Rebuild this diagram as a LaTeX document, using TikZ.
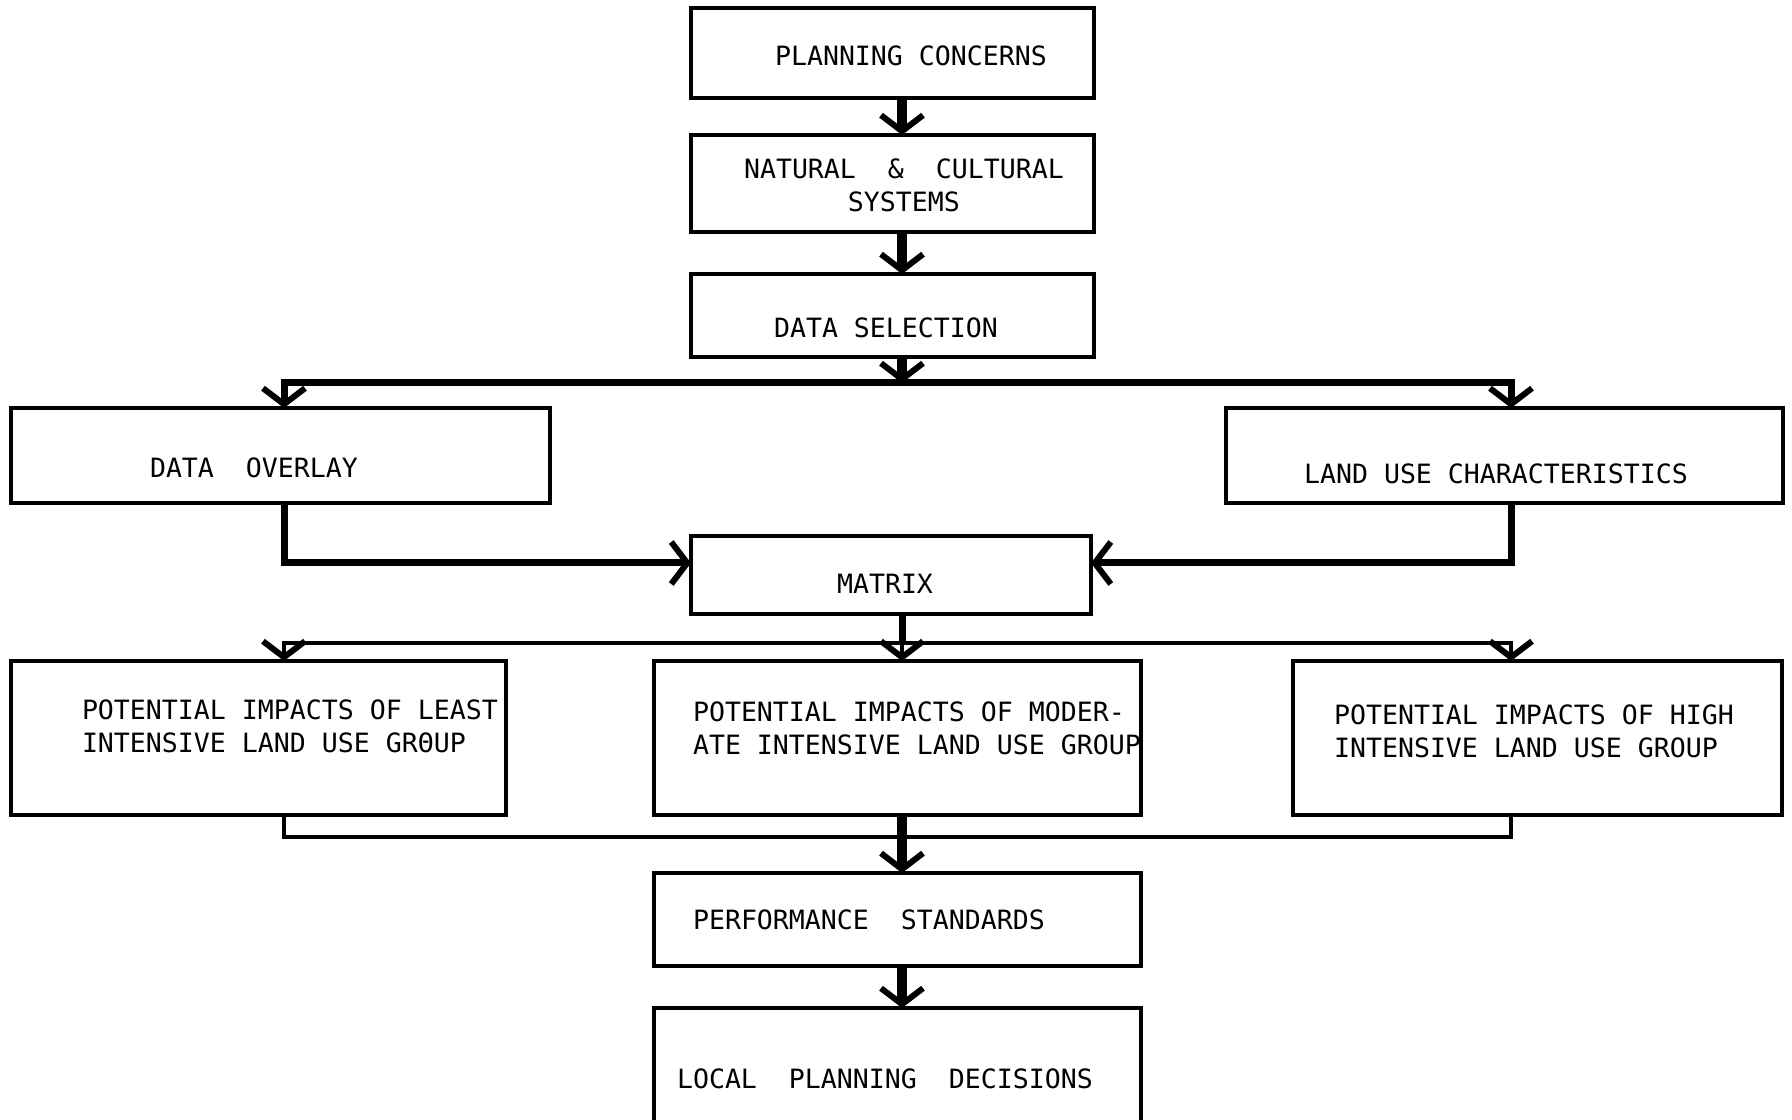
\documentclass[tikz,border=0pt]{standalone}
\usepackage{fontspec}
\usepackage{tikz}
\usetikzlibrary{arrows.meta}
\newfontfamily\typewriter{DejaVu Sans Mono}
\newcommand{\boxline}{0.45mm}
\tikzstyle{flowbox}=[draw, line width=\boxline, inner sep=0, outer sep=0]
\tikzstyle{boxtext}=[font=\typewriter\fontsize{7.56pt}{9.4pt}\selectfont, inner sep=0, outer sep=0, align=left, anchor=west]
\tikzstyle{mainflow}=[line width=1mm]
\tikzstyle{branch}=[line width=0.7mm]
\tikzstyle{minor}=[line width=0.45mm]
\tikzset{chev/.tip={Straight Barb[length=1.6mm, width=4.2mm, line width=0.6mm]}}

\begin{document}
\begin{tikzpicture}[x=0.1mm, y=-0.1mm]
    \useasboundingbox (0,0) rectangle (1792,1120);
    % columns and rows of the connectors
    \coordinate (lft) at (284, 0);
    \coordinate (mid) at (902, 0);
    \coordinate (rgt) at (1511, 0);
    \coordinate (split) at (0, 383);
    \coordinate (feed) at (0, 563);
    \coordinate (fan) at (0, 643);
    \coordinate (merge) at (0, 837);

    \node[flowbox, minimum width=40.3mm, minimum height=9mm,
          label={[boxtext, shift={(84,3)}]west:PLANNING~CONCERNS}] (concerns) at (892.5, 53) {};
    \node[flowbox, minimum width=40.3mm, minimum height=9.7mm,
          label={[boxtext, align=center, shift={(53,2)}]west:{NATURAL~~\&~~CULTURAL\\SYSTEMS}}] (natural) at (892.5, 183.5) {};
    \node[flowbox, minimum width=40.3mm, minimum height=8.3mm,
          label={[boxtext, shift={(83,12)}]west:DATA~SELECTION}] (selection) at (892.5, 315.5) {};
    \node[flowbox, minimum width=53.9mm, minimum height=9.5mm,
          label={[boxtext, shift={(139,12)}]west:DATA~~OVERLAY}] (overlay) at (280.5, 455.5) {};
    \node[flowbox, minimum width=55.7mm, minimum height=9.5mm,
          label={[boxtext, shift={(78,18)}]west:LAND~USE~CHARACTERISTICS}] (landuse) at (1504.5, 455.5) {};
    \node[flowbox, minimum width=40mm, minimum height=7.8mm,
          label={[boxtext, shift={(146,9)}]west:MATRIX}] (matrix) at (891, 575) {};
    \node[flowbox, minimum width=49.5mm, minimum height=15.4mm,
          label={[boxtext, shift={(71,-12)}]west:{POTENTIAL IMPACTS OF LEAST\\INTENSIVE LAND USE GRΘUP}}] (least) at (258.5, 738) {};
    \node[flowbox, minimum width=48.7mm, minimum height=15.4mm,
          label={[boxtext, shift={(39,-10)}]west:{POTENTIAL IMPACTS OF MODER-\\ATE INTENSIVE LAND USE GROUP}}] (moderate) at (897.5, 738) {};
    \node[flowbox, minimum width=48.9mm, minimum height=15.4mm,
          label={[boxtext, shift={(41,-7)}]west:{POTENTIAL IMPACTS OF HIGH\\INTENSIVE LAND USE GROUP}}] (high) at (1537.5, 738) {};
    \node[flowbox, minimum width=48.7mm, minimum height=9.3mm,
          label={[boxtext, shift={(39,0)}]west:PERFORMANCE~~STANDARDS}] (performance) at (897.5, 919.5) {};
    \node[flowbox, minimum width=48.7mm, minimum height=13.2mm,
          label={[boxtext, shift={(23,5)}]west:LOCAL~~PLANNING~~DECISIONS}] (decisions) at (897.5, 1074) {};

    \draw[mainflow, -chev] (concerns.south -| mid) -- (natural.north -| mid);
    \draw[mainflow, -chev] (natural.south -| mid) -- (selection.north -| mid);
    \draw[mainflow, -chev] (selection.south -| mid) -- (mid |- split);
    \draw[branch, chev-chev] (overlay.north -| lft) -- (lft |- split) -- (rgt |- split) -- (landuse.north -| rgt);
    \draw[branch, -chev] (overlay.south -| lft) -- (lft |- feed) -- (matrix.west |- feed);
    \draw[branch, -chev] (landuse.south -| rgt) -- (rgt |- feed) -- (matrix.east |- feed);
    \draw[branch] (matrix.south -| mid) -- (mid |- fan);
    \draw[minor, chev-chev] (least.north -| lft) -- (lft |- fan) -- (rgt |- fan) -- (high.north -| rgt);
    \draw[minor, -chev] (mid |- fan) -- (moderate.north -| mid);
    \draw[minor] (least.south -| lft) -- (lft |- merge) -- (rgt |- merge) -- (high.south -| rgt);
    \draw[mainflow, -chev] (moderate.south -| mid) -- (performance.north -| mid);
    \draw[mainflow, -chev] (performance.south -| mid) -- (decisions.north -| mid);
\end{tikzpicture}
\end{document}
